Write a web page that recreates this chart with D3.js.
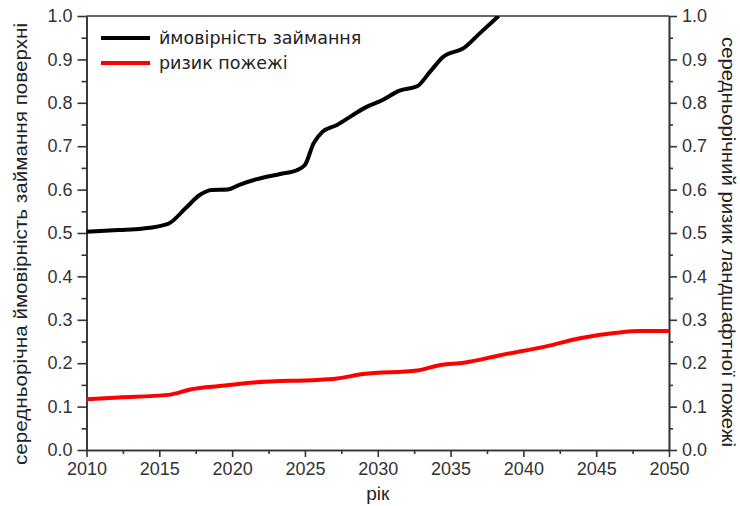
<!DOCTYPE html>
<html>
<head>
<meta charset="utf-8">
<script src="https://cdn.jsdelivr.net/npm/d3@7"></script>
<style>
  html, body { margin: 0; padding: 0; background: #fff; }
  svg { display: block; }
</style>
</head>
<body>
<svg id="chart" width="740" height="506"></svg>
<script>
// Mean annual ignition probability (black) and landscape fire risk (red), 2010–2050
const ignitionYears = [2010, 2012.2, 2013.8, 2015.6, 2016.8, 2017.8, 2018.6, 2019.7, 2020.5, 2021.7, 2023.3, 2024.4, 2025.0, 2025.6, 2026.2, 2027.2, 2028.3, 2029.2, 2030.3, 2031.5, 2032.7, 2033.6, 2034.5, 2035.9, 2037.0, 2038.3];
const ignitionValues = [0.503, 0.507, 0.510, 0.521, 0.557, 0.588, 0.599, 0.600, 0.611, 0.624, 0.636, 0.644, 0.657, 0.707, 0.733, 0.749, 0.772, 0.790, 0.806, 0.828, 0.838, 0.872, 0.906, 0.926, 0.960, 1.0];

const riskYears = [2010, 2012.2, 2015.6, 2017.2, 2019.3, 2020.9, 2027.2, 2029.0, 2032.7, 2034.3, 2035.9, 2038.5, 2041.7, 2043.8, 2046.4, 2048.0, 2050];
const riskValues = [0.117, 0.121, 0.127, 0.140, 0.148, 0.154, 0.165, 0.175, 0.183, 0.196, 0.201, 0.219, 0.240, 0.257, 0.270, 0.274, 0.274];

const xTicks = [2010, 2015, 2020, 2025, 2030, 2035, 2040, 2045, 2050];
const xMinorTicks = [2012.5, 2017.5, 2022.5, 2027.5, 2032.5, 2037.5, 2042.5, 2047.5];
const yTicks = [0, 0.1, 0.2, 0.3, 0.4, 0.5, 0.6, 0.7, 0.8, 0.9, 1.0];
const yMinorTicks = [0.05, 0.15, 0.25, 0.35, 0.45, 0.55, 0.65, 0.75, 0.85, 0.95];

const seriesNames = ["ймовірність займання", "ризик пожежі"];
const seriesColors = ["#000000", "#ff0000"];
const leftTitle = "середньорічна ймовірність займання поверхні";
const rightTitle = "середньорічний ризик ландшафтної пожежі";
const xTitle = "рік";

const svg = d3.select("#chart");
const plotLeft = 86.5, plotRight = 669, plotTop = 16, plotBottom = 450;
const axisColor = "#333";
const tickFont = "'Liberation Sans', Arial, sans-serif";

const x = d3.scaleLinear().domain([2010, 2050]).range([plotLeft, plotRight]);
const y = d3.scaleLinear().domain([0, 1]).range([plotBottom, plotTop]);

// clip region for the curves
svg.append("defs").append("clipPath").attr("id", "plotClip")
  .append("rect").attr("x", plotLeft).attr("y", plotTop)
  .attr("width", plotRight - plotLeft).attr("height", plotBottom - plotTop);

function styleAxis(g) {
  g.selectAll(".domain").attr("stroke", axisColor).attr("stroke-width", 1.6);
  g.selectAll(".tick line").attr("stroke", axisColor).attr("stroke-width", 1.6);
  g.selectAll(".tick text").attr("fill", axisColor).attr("font-family", tickFont).attr("font-size", 18);
}

// bottom axis
const gx = svg.append("g").attr("transform", `translate(0,${plotBottom})`)
  .call(d3.axisBottom(x).tickValues(xTicks).tickFormat(d3.format("d")).tickSize(7).tickPadding(5).tickSizeOuter(0));
styleAxis(gx);
const gxm = svg.append("g").attr("transform", `translate(0,${plotBottom})`)
  .call(d3.axisBottom(x).tickValues(xMinorTicks).tickFormat("").tickSize(4).tickSizeOuter(0));
styleAxis(gxm);

// left axis
const gy = svg.append("g").attr("transform", `translate(${plotLeft},0)`)
  .call(d3.axisLeft(y).tickValues(yTicks).tickFormat(d3.format(".1f")).tickSize(9).tickPadding(5).tickSizeOuter(0));
styleAxis(gy);
const gym = svg.append("g").attr("transform", `translate(${plotLeft},0)`)
  .call(d3.axisLeft(y).tickValues(yMinorTicks).tickFormat("").tickSize(5).tickSizeOuter(0));
styleAxis(gym);

// right axis
const gr = svg.append("g").attr("transform", `translate(${plotRight},0)`)
  .call(d3.axisRight(y).tickValues(yTicks).tickFormat(d3.format(".1f")).tickSize(8).tickPadding(5).tickSizeOuter(0));
styleAxis(gr);
const grm = svg.append("g").attr("transform", `translate(${plotRight},0)`)
  .call(d3.axisRight(y).tickValues(yMinorTicks).tickFormat("").tickSize(4).tickSizeOuter(0));
styleAxis(grm);

// top frame line
svg.append("line").attr("x1", plotLeft).attr("x2", plotRight).attr("y1", plotTop).attr("y2", plotTop)
  .attr("stroke", axisColor).attr("stroke-width", 1.6);

// curves
const line = d3.line().x(d => x(d[0])).y(d => y(d[1])).curve(d3.curveMonotoneX);
const ignition = ignitionYears.map((yr, i) => [yr, ignitionValues[i]]);
const risk = riskYears.map((yr, i) => [yr, riskValues[i]]);

const plot = svg.append("g").attr("clip-path", "url(#plotClip)");
plot.append("path").datum(risk).attr("d", line)
  .attr("fill", "none").attr("stroke", seriesColors[1]).attr("stroke-width", 4).attr("stroke-linejoin", "round");
plot.append("path").datum(ignition).attr("d", line)
  .attr("fill", "none").attr("stroke", seriesColors[0]).attr("stroke-width", 4).attr("stroke-linejoin", "round");

// legend
const legend = svg.append("g");
seriesNames.forEach((name, i) => {
  const ly = 38 + i * 25;
  legend.append("line").attr("x1", 101).attr("x2", 150).attr("y1", ly).attr("y2", ly)
    .attr("stroke", seriesColors[i]).attr("stroke-width", 4);
  legend.append("text").attr("x", 159).attr("y", ly).attr("dy", "0.35em")
    .attr("font-family", "'DejaVu Sans', Verdana, sans-serif").attr("font-size", 17.5)
    .attr("fill", "#222").text(name);
});

// axis titles
svg.append("text")
  .attr("transform", `translate(27,${(plotTop + plotBottom) / 2 + 11}) rotate(-90)`)
  .attr("text-anchor", "middle")
  .attr("font-family", tickFont).attr("font-size", 19).attr("fill", "#222")
  .attr("textLength", 442).attr("lengthAdjust", "spacingAndGlyphs")
  .text(leftTitle);

svg.append("text")
  .attr("transform", `translate(722,242) rotate(90)`)
  .attr("text-anchor", "middle")
  .attr("font-family", tickFont).attr("font-size", 19).attr("fill", "#222")
  .attr("textLength", 410).attr("lengthAdjust", "spacingAndGlyphs")
  .text(rightTitle);

svg.append("text")
  .attr("x", (plotLeft + plotRight) / 2).attr("y", 500)
  .attr("text-anchor", "middle")
  .attr("font-family", tickFont).attr("font-size", 19).attr("fill", "#222")
  .text(xTitle);
</script>
</body>
</html>
